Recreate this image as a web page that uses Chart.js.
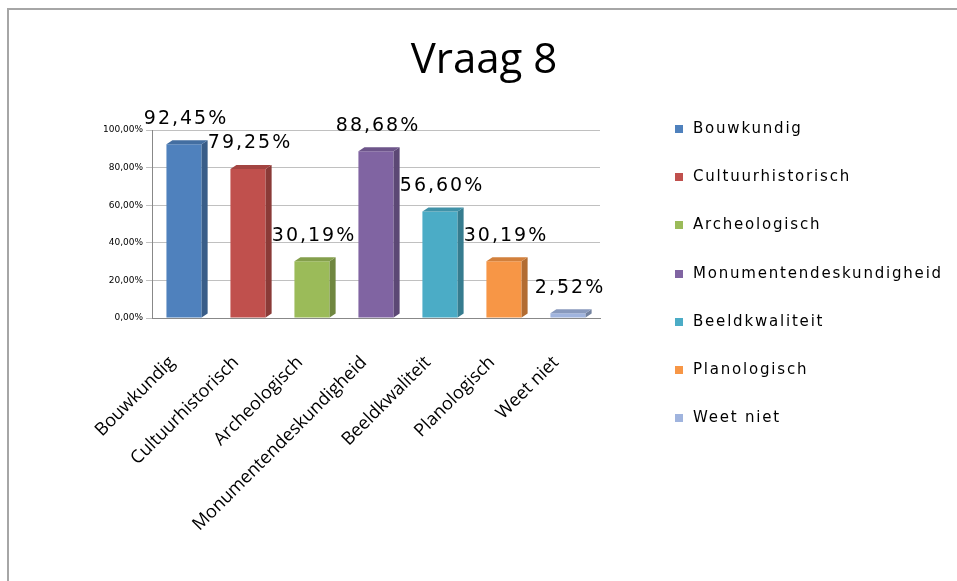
<!DOCTYPE html>
<html>
<head>
<meta charset="utf-8">
<script src="https://cdn.jsdelivr.net/npm/chart.js@4.4.1/dist/chart.umd.min.js"></script>
<style>
  html, body { margin: 0; padding: 0; background: #fff; }
  #wrap { position: relative; width: 957px; height: 581px; overflow: hidden; }
  #frame { position: absolute; left: 7px; top: 8px; right: -5px; bottom: -5px; border: 2px solid #a6a6a6; }
  #title { position: absolute; left: 0; width: 968px; top: 36px; text-align: center; font-family: "Open Sans", sans-serif; font-size: 42px; line-height: 42px; color: #000; }
  #legend { position: absolute; left: 675px; top: 119px; font-family: "DejaVu Sans", sans-serif; font-size: 15px; letter-spacing: 1.8px; color: #000; }
  #legend div { height: 48.2px; display: flex; align-items: flex-start; white-space: nowrap; }
  #legend span.box { display: inline-block; width: 8px; height: 8px; margin: 6px 10px 0 0; }
</style>
</head>
<body>
<div id="wrap">
  <canvas id="chart" width="957" height="581"></canvas>
  <div id="frame"></div>
  <div id="title">Vraag 8</div>
  <div id="legend"></div>
</div>
<script>
const categories = ['Bouwkundig', 'Cultuurhistorisch', 'Archeologisch', 'Monumentendeskundigheid', 'Beeldkwaliteit', 'Planologisch', 'Weet niet'];
const percentages = [92.45, 79.25, 30.19, 88.68, 56.60, 30.19, 2.52];
const colors = ['#4f81bd', '#c0504d', '#9bbb59', '#8064a2', '#4bacc6', '#f79646', '#a0b4de'];
const yTicks = [0, 20, 40, 60, 80, 100];

const fmt = (v, d) => v.toFixed(d).replace('.', ',') + '%';

function shade(hex, f) {
  const n = parseInt(hex.slice(1), 16);
  const r = Math.round(((n >> 16) & 255) * f);
  const g = Math.round(((n >> 8) & 255) * f);
  const b = Math.round((n & 255) * f);
  return `rgb(${r},${g},${b})`;
}

// fake 3d faces + value labels on top
const barDeco = {
  id: 'barDeco',
  afterDatasetsDraw(chart) {
    const ctx = chart.ctx;
    const meta = chart.getDatasetMeta(0);
    const dx = 6, dy = 4;
    meta.data.forEach((bar, i) => {
      const half = bar.width / 2;
      const l = bar.x - half, r = bar.x + half;
      ctx.save();
      ctx.fillStyle = shade(colors[i], 0.72);
      ctx.beginPath();
      ctx.moveTo(r, bar.y);
      ctx.lineTo(r + dx, bar.y - dy);
      ctx.lineTo(r + dx, bar.base - dy);
      ctx.lineTo(r, bar.base);
      ctx.closePath();
      ctx.fill();
      ctx.fillStyle = shade(colors[i], 0.85);
      ctx.beginPath();
      ctx.moveTo(l, bar.y);
      ctx.lineTo(l + dx, bar.y - dy);
      ctx.lineTo(r + dx, bar.y - dy);
      ctx.lineTo(r, bar.y);
      ctx.closePath();
      ctx.fill();
      ctx.fillStyle = '#000';
      ctx.font = '19px "DejaVu Sans", sans-serif';
      ctx.letterSpacing = '2px';
      ctx.textAlign = 'center';
      ctx.textBaseline = 'bottom';
      ctx.fillText(fmt(percentages[i], 2), bar.x + 2, bar.y - 16);
      ctx.restore();
    });
  }
};

const data = {
  labels: categories,
  datasets: [{
    data: percentages,
    backgroundColor: colors,
    barPercentage: 0.55,
    categoryPercentage: 1
  }]
};

const config = {
  type: 'bar',
  data: data,
  options: {
    responsive: false,
    animation: false,
    layout: { padding: { left: 100, right: 357, top: 130, bottom: 0 } },
    plugins: {
      legend: { display: false },
      tooltip: { enabled: false },
      title: { display: false }
    },
    scales: {
      x: {
        afterFit: (scale) => { scale.height = 263; },
        grid: { display: false, drawTicks: true, tickLength: 6 },
        border: { color: '#888' },
        ticks: {
          color: '#000',
          font: { family: '"Open Sans", sans-serif', size: 18 },
          minRotation: 45,
          maxRotation: 45,
          padding: 28,
          labelOffset: -12
        }
      },
      y: {
        min: 0,
        max: 100,
        afterBuildTicks: (axis) => { axis.ticks = yTicks.map(v => ({ value: v })); },
        grid: { color: '#c0c0c0', tickLength: 6 },
        border: { color: '#888' },
        ticks: {
          color: '#000',
          font: { family: '"DejaVu Sans", sans-serif', size: 9 },
          callback: (v) => fmt(v, 2)
        }
      }
    }
  },
  plugins: [barDeco]
};

new Chart(document.getElementById('chart'), config);

const legendEl = document.getElementById('legend');
categories.forEach((c, i) => {
  const row = document.createElement('div');
  row.innerHTML = `<span class="box" style="background:${colors[i]}"></span>${c}`;
  legendEl.appendChild(row);
});
</script>
</body>
</html>
